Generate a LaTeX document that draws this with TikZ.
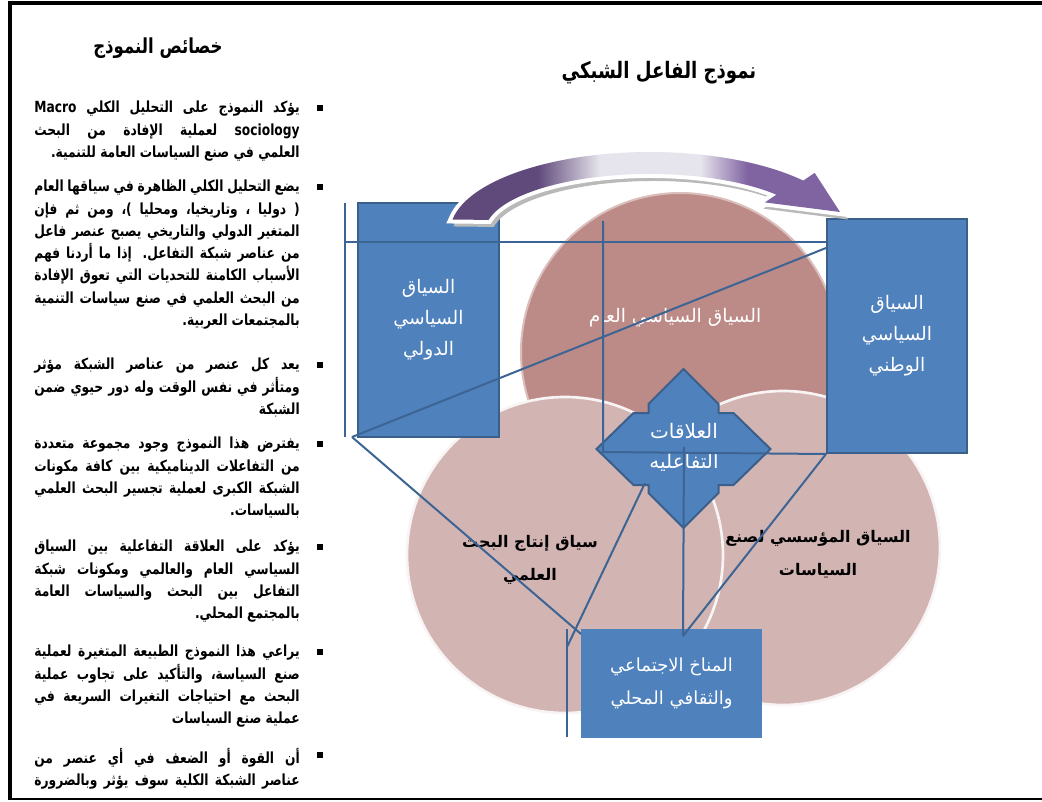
\documentclass[tikz,border=0pt]{standalone}
\usepackage{fontspec}
\usetikzlibrary{calc}
\TeXXeTstate=1
\newfontfamily\arabicfont[Script=Arabic,FakeStretch=0.8]{DejaVu Sans}
\newfontfamily\labelfont[Script=Arabic]{DejaVu Sans}

\definecolor{boxblue}{HTML}{4F81BD}
\definecolor{boxedge}{HTML}{3A5F8B}
\definecolor{linkblue}{HTML}{3C6494}
\definecolor{roseTop}{HTML}{BD8B87}
\definecolor{roseLow}{HTML}{D2B4B3}
\definecolor{arcL}{HTML}{604A7B}
\definecolor{arcR}{HTML}{8064A2}
\definecolor{arcM}{HTML}{E6E4EC}

\pgfdeclarehorizontalshading{arcshade}{100bp}{color(0bp)=(arcL); color(36bp)=(arcL);
  color(44bp)=(arcM); color(57bp)=(arcM); color(63bp)=(arcR); color(100bp)=(arcR)}

\newcommand\rl[1]{\beginR #1\endR}
\newcommand\jl[1]{\makebox[199pt][s]{\beginR #1\endR}}
% the curved arrow over the top
\newcommand\swoop[1]{\path[#1] (452.5,219.5)
  arc[start angle=-171, end angle=-40, x radius=200, y radius=80]
  -- (814.7,172.9) -- (840,212) -- (764.9,202.4) -- (776.4,194.7)
  arc[start angle=-40, end angle=-168, x radius=165, y radius=58] -- cycle;}

\begin{document}
\begin{tikzpicture}[x=0.75pt, y=-0.75pt,
    every node/.style={inner sep=0pt, align=center},
    ctxbox/.style={rectangle, draw=boxedge, fill=boxblue, line width=1.5pt, text=white,
                   font=\labelfont\fontsize{14}{23.25}\selectfont},
    ctxlabel/.style={font=\labelfont\bfseries\fontsize{12}{25}\selectfont},
    link/.style={draw=linkblue, line width=1.5pt},
    bul/.style={rectangle, fill=black, minimum size=4.5pt},
    item/.style={anchor=north east, align=right,
                 font=\arabicfont\bfseries\fontsize{11.5}{16.7}\selectfont},
    pageframe/.style={line width=3pt, black},
]
    \useasboundingbox (0,0) rectangle (1042,802);
    \draw[pageframe] (1042,3) -- (10,3) -- (10,800);
    \draw[line width=1.5pt] (10,799) -- (1042,799);

    % three contexts
    \filldraw[fill=roseTop, draw=roseTop!55!white, line width=1.5pt] (680,352) circle[radius=159];
    \filldraw[fill=roseLow, draw=white!85!roseLow, line width=2pt] (783,548) circle[radius=157];
    \filldraw[fill=roseLow, draw=white!85!roseLow, line width=2pt] (565,555) circle[radius=158];

    \node[font=\labelfont\fontsize{14}{25}\selectfont, text=white] (pubctx) at (675,318)
        {\rl{السياق السياسي العام}};
    \node[ctxlabel] (resctx) at (530,560) {\rl{سياق إنتاج البحث}\\\rl{العلمي}};
    \node[ctxlabel] (instctx) at (818,554) {\rl{السياق المؤسسي لصنع}\\\rl{السياسات}};

    \node[ctxbox, minimum width=105.75pt, minimum height=175.5pt] (intl) at (428.5,320)
        {\rl{السياق}\\\rl{السياسي}\\\rl{الدولي}};
    \node[ctxbox, minimum width=105pt, minimum height=175.5pt] (natl) at (897,336)
        {\rl{السياق}\\\rl{السياسي}\\\rl{الوطني}};
    \node[ctxbox, draw=none, minimum width=135.75pt, minimum height=81.75pt,
          font=\labelfont\fontsize{13.5}{24.5}\selectfont] (local) at (671.5,683.5)
        {\rl{المناخ الاجتماعي}\\\rl{والثقافي المحلي}};

    % interaction plaque
    \begin{scope}[shift={(683.5,449)}]
        \filldraw[fill=boxblue, draw=boxedge, line width=1.5pt]
            (0,-80) -- (-35,-45) -- (-35,-36) -- (-50,-36) -- (-87,0) -- (-50,36) -- (-35,36)
            -- (-35,44) -- (0,79) -- (35,44) -- (35,36) -- (50,36) -- (87,0) -- (50,-36)
            -- (35,-36) -- (35,-45) -- cycle;
    \end{scope}
    \node[text=white, font=\labelfont\fontsize{15}{22.5}\selectfont] (rel) at (684,447)
        {\rl{العلاقات}\\\rl{التفاعليه}};

    % connectors
    \coordinate (ltop) at (345,203);
    \coordinate (lbot) at (345,437);
    \coordinate (lmid) at (345,242);
    \coordinate (lfoot) at (352,437);
    \coordinate (mtop) at (603,221);
    \coordinate (mbot) at (603,452);
    \coordinate (lcon) at (683,636);
    \coordinate (relsw) at (645,483);
    \coordinate (kbend) at (567,647);
    \coordinate (ktop) at (567,629);
    \coordinate (kbot) at (567,737);
    \draw[link] (ltop) -- (lbot);
    \draw[link] (lmid) -- (lmid -| natl.west);
    \draw[link] (lfoot) -- ($(natl.north west)+(0,30)$);
    \draw[link] (lfoot) -- ($(local.north west)+(1,6)$);
    \draw[link] (mtop) -- (mbot) -- (natl.south west);
    \draw[link] (natl.south west) -- (lcon);
    \draw[link] (rel.center) -- (lcon);
    \draw[link] (relsw) -- (kbend);
    \draw[link] (ktop) -- (kbot);

    % curved arrow
    \swoop{fill=gray!55, draw=gray!55, line width=3pt, shift={(4,5)}}
    \swoop{draw=white, line width=6pt}
    \swoop{shade, shading=arcshade}

    % titles
    \node[font=\arabicfont\bfseries\fontsize{15.5}{18}\selectfont] (head) at (158,48) {\rl{خصائص النموذج}};
    \node[font=\arabicfont\bfseries\fontsize{17}{20}\selectfont] (title) at (659,73) {\rl{نموذج الفاعل الشبكي}};

    % list of properties
    \foreach \y [count=\i] in {108,187,365,444,547,652,755}
        \node[bul] (b\i) at (320,\y) {};
    \node[item] (t1) at ($(b1)+(-20,-7)$) {%
        \jl{يؤكد النموذج على التحليل الكلي \beginL Macro\endL}\\
        \jl{\beginL sociology\endL{} لعملية الإفادة من البحث}\\
        \rl{العلمي في صنع السياسات العامة للتنمية.}};
    \node[item] (t2) at ($(b2)+(-20,-7)$) {%
        \jl{يضع التحليل الكلي الظاهرة في سياقها العام}\\
        \jl{( دوليا ، وتاريخيا، ومحليا )، ومن ثم فإن}\\
        \jl{المتغير الدولي والتاريخي يصبح عنصر فاعل}\\
        \jl{من عناصر شبكة التفاعل. إذا ما أردنا فهم}\\
        \jl{الأسباب الكامنة للتحديات التي تعوق الإفادة}\\
        \jl{من البحث العلمي في صنع سياسات التنمية}\\
        \rl{بالمجتمعات العربية.}};
    \node[item] (t3) at ($(b3)+(-20,-7)$) {%
        \jl{يعد كل عنصر من عناصر الشبكة مؤثر}\\
        \jl{ومتأثر في نفس الوقت وله دور حيوي ضمن}\\
        \rl{الشبكة}};
    \node[item] (t4) at ($(b4)+(-20,-7)$) {%
        \jl{يفترض هذا النموذج وجود مجموعة متعددة}\\
        \jl{من التفاعلات الديناميكية بين كافة مكونات}\\
        \jl{الشبكة الكبرى لعملية تجسير البحث العلمي}\\
        \rl{بالسياسات.}};
    \node[item] (t5) at ($(b5)+(-20,-7)$) {%
        \jl{يؤكد على العلاقة التفاعلية بين السياق}\\
        \jl{السياسي العام والعالمي ومكونات شبكة}\\
        \jl{التفاعل بين البحث والسياسات العامة}\\
        \rl{بالمجتمع المحلي.}};
    \node[item] (t6) at ($(b6)+(-20,-7)$) {%
        \jl{يراعي هذا النموذج الطبيعة المتغيرة لعملية}\\
        \jl{صنع السياسة، والتأكيد على تجاوب عملية}\\
        \jl{البحث مع احتياجات التغيرات السريعة في}\\
        \rl{عملية صنع السياسات}};
    \node[item] (t7) at ($(b7)+(-20,-7)$) {%
        \jl{أن القوة أو الضعف في أي عنصر من}\\
        \jl{عناصر الشبكة الكلية سوف يؤثر وبالضرورة}};
\end{tikzpicture}
\end{document}
